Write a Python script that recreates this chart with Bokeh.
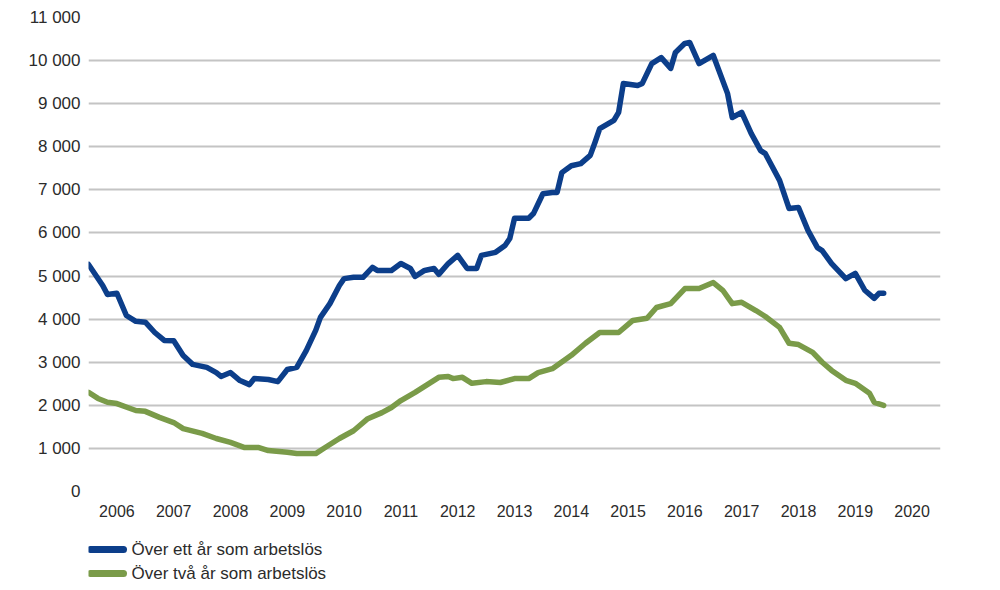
from bokeh.plotting import figure
from bokeh.layouts import column
from bokeh.models import Range1d, FixedTicker, ColumnDataSource
from bokeh.core.properties import value
from bokeh.embed import file_html
from bokeh.resources import INLINE

# Monthly readings (year-month) and number of long-term unemployed
ett_ar_months = [
    "2005-07", "2005-10", "2005-11", "2006-01", "2006-03", "2006-05", "2006-07", "2006-09",
    "2006-11", "2007-01", "2007-03", "2007-05", "2007-08", "2007-10", "2007-11", "2008-01",
    "2008-03", "2008-05", "2008-06", "2008-09", "2008-11", "2009-01", "2009-03", "2009-05",
    "2009-07", "2009-08", "2009-10", "2009-12", "2010-01", "2010-03", "2010-05", "2010-07",
    "2010-08", "2010-11", "2011-01", "2011-03", "2011-04", "2011-06", "2011-08", "2011-09",
    "2011-11", "2012-01", "2012-03", "2012-05", "2012-06", "2012-09", "2012-11", "2012-12",
    "2013-01", "2013-04", "2013-05", "2013-07", "2013-09", "2013-10", "2013-11", "2014-01",
    "2014-03", "2014-05", "2014-06", "2014-07", "2014-10", "2014-11", "2014-12", "2015-03",
    "2015-04", "2015-06", "2015-08", "2015-10", "2015-11", "2016-01", "2016-02", "2016-04",
    "2016-07", "2016-10", "2016-11", "2017-01", "2017-03", "2017-05", "2017-06", "2017-09",
    "2017-11", "2018-01", "2018-03", "2018-05", "2018-06", "2018-08", "2018-11", "2019-01",
    "2019-03", "2019-05", "2019-06", "2019-07",
]
ett_ar_values = [
    5270, 4780, 4570, 4600, 4085, 3950, 3930, 3690,
    3505, 3500, 3155, 2950, 2880, 2760, 2670, 2760,
    2575, 2480, 2620, 2600, 2550, 2830, 2880, 3270,
    3740, 4040, 4360, 4780, 4940, 4970, 4970, 5200,
    5130, 5130, 5290, 5175, 4990, 5130, 5175, 5040,
    5290, 5480, 5175, 5175, 5480, 5550, 5710, 5870,
    6340, 6340, 6450, 6910, 6940, 6940, 7400, 7560,
    7610, 7800, 8100, 8420, 8610, 8800, 9470, 9420,
    9470, 9930, 10070, 9820, 10190, 10400, 10420, 9930,
    10120, 9240, 8680, 8800, 8310, 7910, 7840, 7220,
    6570, 6590, 6060, 5660, 5590, 5290, 4940, 5060,
    4670, 4480, 4600, 4600,
]

tva_ar_months = [
    "2005-07", "2005-09", "2005-11", "2006-01", "2006-05", "2006-07", "2006-10", "2007-01",
    "2007-03", "2007-07", "2007-10", "2008-01", "2008-04", "2008-07", "2008-09", "2009-01",
    "2009-03", "2009-07", "2009-09", "2009-12", "2010-03", "2010-06", "2010-09", "2010-11",
    "2011-01", "2011-04", "2011-07", "2011-09", "2011-11", "2011-12", "2012-02", "2012-04",
    "2012-07", "2012-10", "2013-01", "2013-04", "2013-06", "2013-09", "2014-01", "2014-04",
    "2014-07", "2014-11", "2015-02", "2015-05", "2015-07", "2015-10", "2016-01", "2016-04",
    "2016-07", "2016-09", "2016-11", "2017-01", "2017-04", "2017-06", "2017-09", "2017-11",
    "2018-01", "2018-04", "2018-06", "2018-08", "2018-11", "2019-01", "2019-04", "2019-05",
    "2019-07",
]
tva_ar_values = [
    2300, 2160, 2070, 2040, 1880, 1860, 1720, 1600,
    1460, 1350, 1230, 1140, 1020, 1020, 950, 910,
    880, 880, 1020, 1230, 1410, 1690, 1830, 1950,
    2110, 2300, 2510, 2650, 2670, 2620, 2650, 2510,
    2550, 2530, 2620, 2620, 2760, 2850, 3160, 3440,
    3690, 3690, 3970, 4020, 4270, 4360, 4710, 4710,
    4850, 4670, 4360, 4390, 4200, 4060, 3810, 3440,
    3410, 3230, 3000, 2810, 2580, 2510, 2280, 2070,
    2000,
]

year_ticks = list(range(2006, 2021))
y_ticks = list(range(0, 11001, 1000))

series_names = ["Över ett år som arbetslös", "Över två år som arbetslös"]
series_colors = ["#0c3e8a", "#7a9b49"]


def to_decimal_year(months):
    out = []
    for m in months:
        y, mo = m.split("-")
        out.append(int(y) + (int(mo) - 1) / 12.0)
    return out


font = "Liberation Sans"
text_color = "#2b2b2b"
line_w = 5.5

# ---- main chart ----
p = figure(
    width=1000, height=525,
    x_range=Range1d(2005.5, 2020.5), y_range=Range1d(0, 11000),
    output_backend="svg", toolbar_location=None,
    min_border_left=88, min_border_right=60, min_border_top=17, min_border_bottom=34,
)
p.outline_line_color = None
p.background_fill_color = "white"
p.border_fill_color = "white"

p.xgrid.grid_line_color = None
p.ygrid.ticker = FixedTicker(ticks=y_ticks)
p.ygrid.grid_line_color = "#c4c4c4"
p.ygrid.grid_line_width = 2

p.yaxis.ticker = FixedTicker(ticks=y_ticks)
p.yaxis.major_label_overrides = {v: f"{v:,}".replace(",", " ") for v in y_ticks}
p.yaxis.axis_line_color = None
p.yaxis.major_tick_line_color = None
p.yaxis.minor_tick_line_color = None
p.yaxis.major_tick_out = 0
p.yaxis.major_label_standoff = 8
p.yaxis.major_label_text_font = font
p.yaxis.major_label_text_font_size = "17px"
p.yaxis.major_label_text_color = text_color

p.xaxis.ticker = FixedTicker(ticks=year_ticks)
p.xaxis.major_label_overrides = {v: str(v) for v in year_ticks}
p.xaxis.axis_line_color = None
p.xaxis.major_tick_line_color = None
p.xaxis.minor_tick_line_color = None
p.xaxis.major_tick_out = 0
p.xaxis.minor_tick_out = 0
p.xaxis.major_label_standoff = 13
p.xaxis.major_label_text_font = font
p.xaxis.major_label_text_font_size = "16px"
p.xaxis.major_label_text_color = text_color

src1 = ColumnDataSource(dict(x=to_decimal_year(ett_ar_months), y=ett_ar_values))
src2 = ColumnDataSource(dict(x=to_decimal_year(tva_ar_months), y=tva_ar_values))

p.line("x", "y", source=src2, line_color=series_colors[1], line_width=line_w,
       line_join="round", line_cap="round")
p.line("x", "y", source=src1, line_color=series_colors[0], line_width=line_w,
       line_join="round", line_cap="round")

# ---- legend strip under the chart ----
# its frame is aligned with the chart's frame (88..940 px), so the x range is set
# so that one unit equals one pixel of the page
leg = figure(
    width=1000, height=65, x_range=Range1d(88, 940), y_range=Range1d(0, 65),
    output_backend="svg", toolbar_location=None,
    x_axis_location=None, y_axis_location=None,
    min_border_left=88, min_border_right=60, min_border_top=0, min_border_bottom=0,
)
leg.grid.visible = False
leg.outline_line_color = None
leg.border_fill_color = "white"
leg.background_fill_color = "white"

row_y = [41, 17]
leg_src = ColumnDataSource(dict(
    x0=[90, 90], x1=[123, 123], tx=[131, 131], y=row_y,
    name=series_names, color=series_colors,
))
leg.segment(x0="x0", y0="y", x1="x1", y1="y", source=leg_src, line_color="color",
            line_width=7, line_cap="round")
leg.text(x="tx", y="y", text="name", source=leg_src, text_font=value(font),
         text_font_size="17px", text_color=text_color, text_baseline="middle",
         text_align="left")

open("out.html", "w").write(file_html(column(p, leg, spacing=0), INLINE))
